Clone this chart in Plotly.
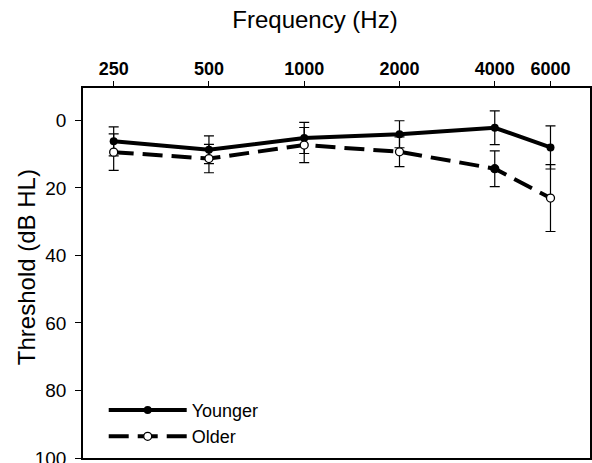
import plotly.graph_objects as go

freqs = [250, 500, 1000, 2000, 4000, 6000]
freq_labels = ["250", "500", "1000", "2000", "4000", "6000"]
younger = [6.2, 8.7, 5.2, 4.1, 2.2, 8.0]
younger_sd = [4.3, 4.1, 4.6, 4.0, 5.0, 6.4]
older = [9.4, 11.3, 7.3, 9.3, 14.3, 23.0]
older_sd = [5.4, 4.2, 5.2, 4.4, 5.3, 9.9]
y_ticks = [0, 20, 40, 60, 80, 100]

FONT = "Liberation Sans, Arial, Helvetica, sans-serif"

fig = go.Figure()
fig.add_trace(go.Scatter(
    x=freqs, y=younger, name="Younger", mode="lines+markers",
    line=dict(color="black", width=4),
    marker=dict(symbol="circle", size=8, color="black"),
    error_y=dict(type="data", array=younger_sd, visible=True, color="black", thickness=1.2, width=5),
))
fig.add_trace(go.Scatter(
    x=freqs, y=older, name="Older", mode="lines+markers",
    line=dict(color="black", width=4, dash="20px,9px"),
    marker=dict(symbol="circle", size=8, color=["white", "white", "white", "white", "black", "white"],
                line=dict(color="black", width=1.3)),
    error_y=dict(type="data", array=older_sd, visible=True, color="black", thickness=1.2, width=5),
))

fig.update_layout(
    width=592, height=463,
    margin=dict(l=83, r=2, t=88, b=5, autoexpand=False),
    paper_bgcolor="white", plot_bgcolor="white",
    font=dict(family=FONT, color="black"),
    showlegend=True,
    title=dict(text="Frequency (Hz)", x=315/592, xanchor="center", y=(463-20)/463, yanchor="middle",
               font=dict(size=24, family=FONT, color="black")),
    legend=dict(x=(104-83.3)/506.7, y=0.094, xanchor="left", yanchor="middle", bgcolor="rgba(0,0,0,0)",
                font=dict(size=18, family=FONT), tracegroupgap=0, itemwidth=78),
    annotations=[dict(text="Threshold (dB HL)", textangle=-90, xref="paper", yref="paper",
                      x=(27-83.3)/506.7, y=(458.5-268)/370, xanchor="center", yanchor="middle",
                      showarrow=False, font=dict(size=24, family=FONT, color="black"))],
)
fig.update_xaxes(
    type="log", side="top", range=[2.301, 3.903], automargin=False,
    tickvals=freqs, ticktext=["<b>%s</b>" % t for t in freq_labels],
    tickfont=dict(size=18, family=FONT, color="black"), ticklabelstandoff=-1,
    ticks="outside", ticklen=5, tickwidth=1.2, tickcolor="black",
    showline=True, linecolor="black", linewidth=1.5, mirror=True, showgrid=False, zeroline=False,
)
fig.update_yaxes(
    range=[100, -9.6], tickvals=y_ticks, automargin=False, ticklabeloverflow="allow",
    tickfont=dict(size=19, family=FONT, color="black"), ticklabelstandoff=5,
    ticks="outside", ticklen=6, tickwidth=1.2, tickcolor="black",
    showline=True, linecolor="black", linewidth=1.5, mirror=True, showgrid=False, zeroline=False,
)

fig.write_html("out.html", config={"displayModeBar": False},
               post_script="document.body.style.margin='0';document.body.style.overflow='hidden';")
